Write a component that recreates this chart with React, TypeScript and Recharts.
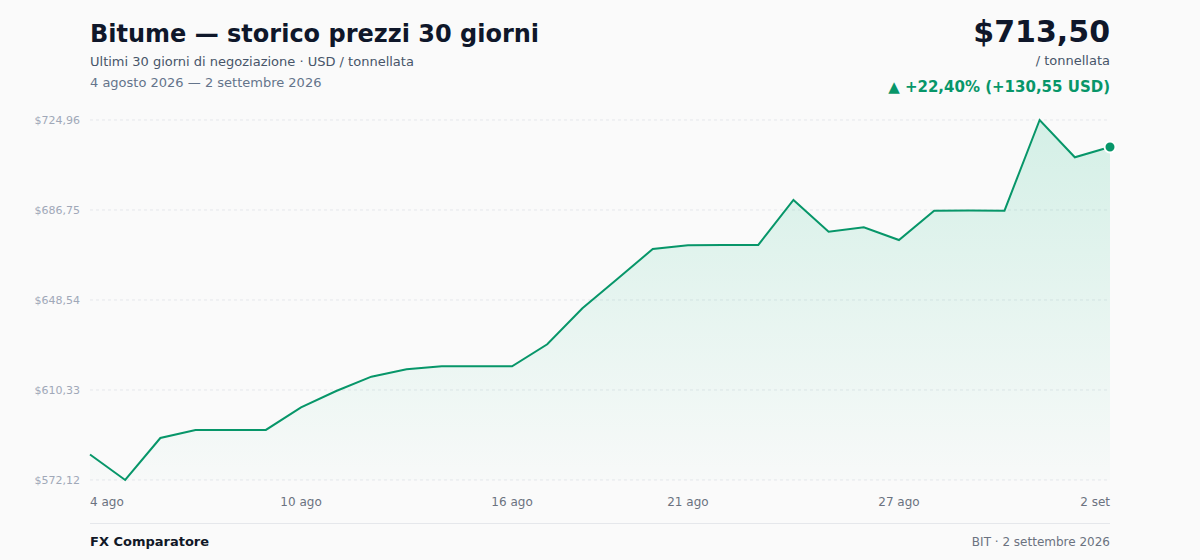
import React from "react";
import { AreaChart, Area, XAxis, YAxis, CartesianGrid } from "recharts";

const dayLabels = [
  "4 ago", "5 ago", "6 ago", "7 ago", "8 ago", "9 ago", "10 ago", "11 ago", "12 ago", "13 ago",
  "14 ago", "15 ago", "16 ago", "17 ago", "18 ago", "19 ago", "20 ago", "21 ago", "22 ago", "23 ago",
  "24 ago", "25 ago", "26 ago", "27 ago", "28 ago", "29 ago", "30 ago", "31 ago", "1 set", "2 set",
];

const prices = [
  582.95, 572.12, 589.95, 593.35, 593.38, 593.4, 602.99, 609.91, 615.98, 619.12,
  620.39, 620.4, 620.42, 629.73, 645.02, 657.58, 670.19, 671.76, 671.85, 671.9,
  691.0, 677.54, 679.41, 674.01, 686.45, 686.5, 686.48, 724.96, 709.12, 713.5,
];

const xTickIndices = [0, 6, 12, 17, 23, 29];
const yTicks = [572.12, 610.33, 648.54, 686.75, 724.96];

const data = prices.map((v, i) => ({ i, v, label: dayLabels[i] }));

const FONT = "'DejaVu Sans', Verdana, sans-serif";
const GREEN = "#079669";

const fmtMoney = (v: number) => "$" + v.toFixed(2).replace(".", ",");

const XTick = (props: any) => {
  const { x, y, payload } = props;
  const idx = payload.value as number;
  const anchor = idx === 0 ? "start" : idx === prices.length - 1 ? "end" : "middle";
  return (
    <text x={x} y={y} dy="0.71em" textAnchor={anchor} fill="#6b7280" fontSize={12} fontFamily={FONT}>
      {dayLabels[idx]}
    </text>
  );
};

const LastDot = (props: any) => {
  const { cx, cy, index } = props;
  if (index !== prices.length - 1) return <g key={"d" + index} />;
  return <circle key={"d" + index} cx={cx} cy={cy} r={5.5} fill={GREEN} stroke="#ffffff" strokeWidth={2} />;
};

const abs = (top: number, extra: React.CSSProperties): React.CSSProperties => ({
  position: "absolute",
  top,
  lineHeight: 1,
  fontFamily: FONT,
  whiteSpace: "nowrap",
  ...extra,
});

export default function App() {
  return (
    <div style={{ position: "relative", width: 1200, height: 560, background: "#fafafa", overflow: "hidden" }}>
      <style>{"body{margin:0;background:#fafafa}"}</style>
      <div style={abs(21.7, { left: 90, fontSize: 24, fontWeight: 700, color: "#0f172a" })}>
        Bitume — storico prezzi 30 giorni
      </div>
      <div style={abs(55, { left: 90, fontSize: 13, color: "#475569" })}>
        Ultimi 30 giorni di negoziazione · USD / tonnellata
      </div>
      <div style={abs(76, { left: 90, fontSize: 13, color: "#64748b" })}>
        4 agosto 2026 — 2 settembre 2026
      </div>
      <div style={abs(16.6, { right: 90, fontSize: 30, fontWeight: 700, color: "#0f172a" })}>$713,50</div>
      <div style={abs(54, { right: 90, fontSize: 13, color: "#475569" })}>/ tonnellata</div>
      <div style={abs(79.5, { right: 90, fontSize: 15, fontWeight: 700, color: GREEN })}>
        ▲ +22,40% (+130,55 USD)
      </div>

      <div style={{ position: "absolute", left: 0, top: 0 }}>
        <AreaChart width={1200} height={560} data={data} margin={{ top: 120, right: 90, bottom: 50, left: 0 }}>
          <defs>
            <linearGradient id="areaFill" x1="0" y1="0" x2="0" y2="1">
              <stop offset="0%" stopColor="#10b981" stopOpacity={0.27} />
              <stop offset="100%" stopColor="#10b981" stopOpacity={0.02} />
            </linearGradient>
          </defs>
          <CartesianGrid vertical={false} stroke="#e5e7eb" strokeDasharray="3 3" />
          <XAxis
            dataKey="i"
            type="number"
            domain={[0, prices.length - 1]}
            ticks={xTickIndices}
            height={30}
            axisLine={false}
            tickLine={false}
            tickSize={0}
            tickMargin={17}
            tick={<XTick />}
            interval={0}
          />
          <YAxis
            type="number"
            domain={[yTicks[0], yTicks[yTicks.length - 1]]}
            ticks={yTicks}
            width={90}
            axisLine={false}
            tickLine={false}
            tickSize={0}
            tickMargin={10}
            tickFormatter={fmtMoney}
            tick={{ fill: "#a0a8b8", fontSize: 11, fontFamily: FONT }}
            interval={0}
          />
          <Area
            type="linear"
            dataKey="v"
            stroke={GREEN}
            strokeWidth={2}
            fill="url(#areaFill)"
            dot={<LastDot />}
            activeDot={false}
            isAnimationActive={false}
          />
        </AreaChart>
      </div>

      <div style={{ position: "absolute", left: 90, top: 523, width: 1020, height: 1, background: "#e5e7eb" }} />
      <div style={abs(535, { left: 90, fontSize: 13, fontWeight: 700, color: "#111827" })}>FX Comparatore</div>
      <div style={abs(536, { right: 90, fontSize: 12, color: "#6b7280" })}>BIT · 2 settembre 2026</div>
    </div>
  );
}
